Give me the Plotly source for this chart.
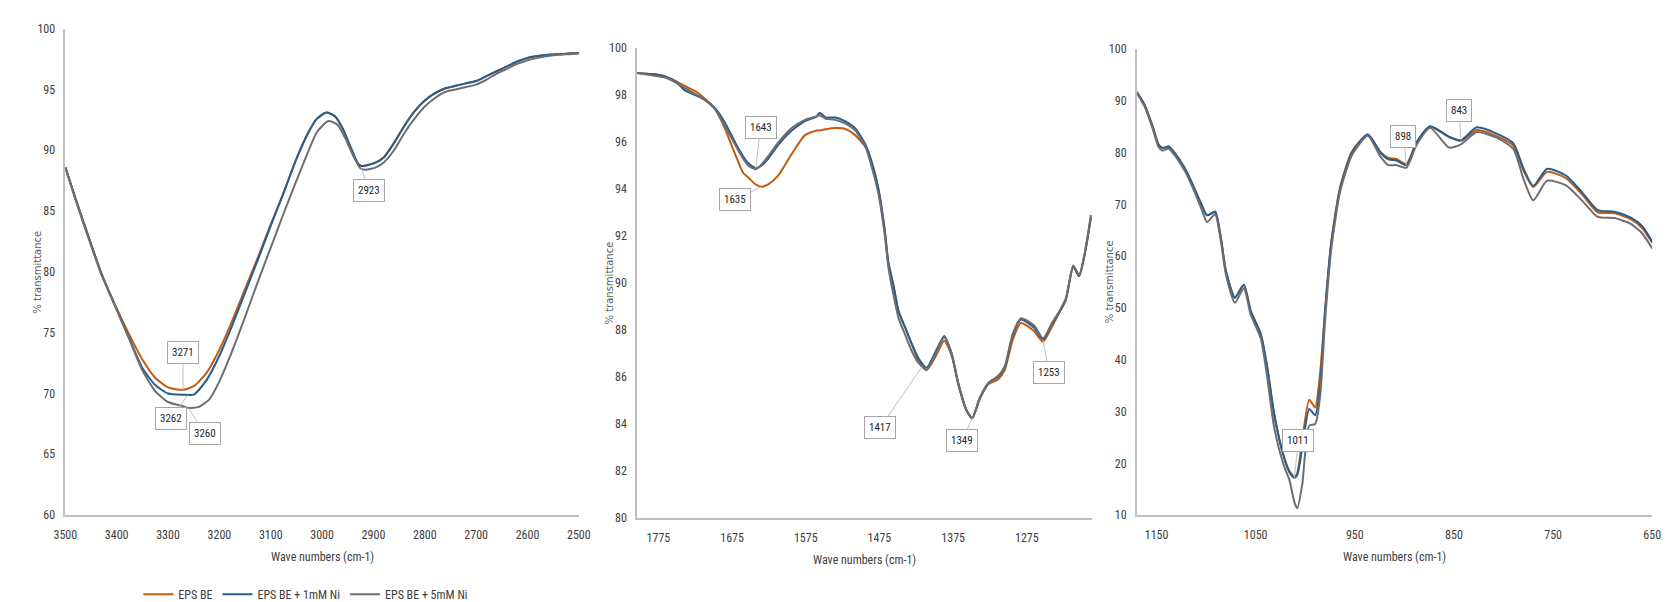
import plotly.graph_objects as go

# ---------------- Data ----------------
series_names = ["EPS BE", "EPS BE + 1mM Ni", "EPS BE + 5mM Ni"]
series_colors = ["#C55A11", "#255E91", "#6E6E6E"]

# Panel 1 (3500-2500 cm-1)
wn1_a = [3500, 3480, 3455, 3430, 3400, 3375, 3350, 3325, 3300, 3271, 3250, 3225, 3200, 3175,
         3150, 3125, 3100, 3075, 3050, 3025, 3010, 2992, 2975, 2960, 2945, 2930, 2923, 2910,
         2895, 2880, 2860, 2840, 2820, 2800, 2780, 2760, 2740, 2720, 2700, 2680, 2660, 2640,
         2620, 2600, 2580, 2560, 2540, 2520, 2500]
eps_be_1 = [88.6, 86.0, 82.9, 79.9, 77.0, 74.8, 72.8, 71.3, 70.5, 70.3, 70.6, 71.7, 73.6, 76.0,
            78.6, 81.2, 83.9, 86.5, 89.3, 91.6, 92.6, 93.1, 92.8, 91.8, 90.3, 88.9, 88.7, 88.8,
            89.0, 89.4, 90.6, 92.0, 93.2, 94.1, 94.7, 95.1, 95.3, 95.5, 95.7, 96.1, 96.5, 96.9,
            97.3, 97.6, 97.75, 97.85, 97.9, 97.95, 98.0]
ni1_1 = [88.6, 86.0, 82.9, 79.9, 76.9, 74.5, 72.1, 70.7, 70.0, 69.9, 69.9, 71.1, 73.1, 75.6,
         78.3, 81.0, 83.8, 86.5, 89.3, 91.6, 92.6, 93.1, 92.8, 91.8, 90.3, 88.9, 88.7, 88.8,
         89.0, 89.4, 90.6, 92.0, 93.2, 94.1, 94.7, 95.1, 95.3, 95.5, 95.7, 96.1, 96.5, 96.9,
         97.3, 97.6, 97.75, 97.85, 97.9, 97.95, 98.0]
wn1_c = [3500, 3480, 3455, 3430, 3400, 3375, 3350, 3325, 3300, 3271, 3260, 3240, 3220, 3200,
         3175, 3150, 3125, 3100, 3075, 3050, 3025, 3010, 2988, 2970, 2955, 2940, 2925, 2915,
         2895, 2880, 2860, 2840, 2820, 2800, 2780, 2760, 2740, 2720, 2700, 2680, 2660, 2640,
         2620, 2600, 2580, 2560, 2540, 2520, 2500]
ni5_1 = [88.6, 85.9, 82.8, 79.8, 76.9, 74.4, 71.9, 70.2, 69.3, 68.95, 68.8, 68.9, 69.5, 71.0,
         73.5, 76.3, 79.2, 82.0, 84.8, 87.5, 90.1, 91.5, 92.4, 92.1, 91.0, 89.6, 88.5, 88.4,
         88.6, 89.0, 90.0, 91.4, 92.6, 93.6, 94.3, 94.8, 95.0, 95.2, 95.4, 95.8, 96.3, 96.7,
         97.1, 97.4, 97.6, 97.75, 97.85, 97.9, 97.95]

# Panel 2 (1800-1190 cm-1)
wn2 = [1804, 1784, 1766, 1752, 1739, 1725, 1712, 1698, 1685, 1671, 1660, 1653, 1643, 1635,
       1626, 1612, 1594, 1576, 1560, 1556, 1548, 1535, 1522, 1508, 1494, 1486, 1477, 1468,
       1463, 1456, 1449, 1440, 1431, 1422, 1411, 1400, 1387, 1377, 1368, 1357, 1349, 1339,
       1327, 1314, 1305, 1294, 1283, 1265, 1253, 1240, 1230, 1222, 1212, 1204, 1196, 1188]
eps_be_2 = [98.95, 98.9, 98.8, 98.6, 98.4, 98.17, 97.85, 97.4, 96.6, 95.5, 94.7, 94.5, 94.2, 94.1,
            94.2, 94.6, 95.5, 96.3, 96.5, 96.5, 96.55, 96.6, 96.57, 96.3, 95.8, 95.2, 94.1, 92.3,
            90.9, 89.9, 88.8, 88.1, 87.4, 86.7, 86.3, 86.8, 87.55, 86.9, 85.7, 84.6, 84.25, 85.05,
            85.7, 85.9, 86.3, 87.6, 88.3, 87.95, 87.5, 88.2, 88.8, 89.3, 90.7, 90.3, 91.3, 92.8]
ni1_2 = [98.95, 98.9, 98.8, 98.6, 98.2, 98.0, 97.8, 97.45, 96.85, 96.0, 95.4, 95.1, 94.9, 95.0,
         95.3, 95.9, 96.5, 96.9, 97.1, 97.25, 97.05, 97.05, 96.9, 96.6, 95.9, 95.2, 94.1, 92.3,
         90.9, 89.9, 88.8, 88.1, 87.4, 86.8, 86.4, 87.0, 87.75, 87.0, 85.75, 84.6, 84.25, 85.1,
         85.75, 86.0, 86.4, 87.8, 88.45, 88.1, 87.6, 88.3, 88.8, 89.3, 90.7, 90.3, 91.3, 92.8]
ni5_2 = [98.95, 98.85, 98.75, 98.55, 98.3, 98.05, 97.8, 97.4, 96.7, 95.9, 95.3, 95.0, 94.85, 95.05,
         95.4, 96.0, 96.6, 96.95, 97.1, 97.15, 97.0, 96.95, 96.8, 96.5, 95.8, 95.0, 93.9, 92.1,
         90.7, 89.5, 88.5, 87.8, 87.1, 86.6, 86.3, 86.9, 87.7, 87.0, 85.7, 84.6, 84.25, 85.1,
         85.75, 86.05, 86.45, 87.85, 88.5, 88.2, 87.65, 88.35, 88.85, 89.35, 90.75, 90.35, 91.35, 92.9]

# Panel 3 (1170-650 cm-1)
wn3 = [1170, 1162, 1154, 1148, 1144, 1138, 1132, 1121, 1113, 1105, 1099, 1091, 1085, 1080,
       1071, 1062, 1055, 1045, 1039, 1031, 1022, 1016, 1011, 1008, 1003, 996, 990, 985, 980,
       974, 965, 953, 937, 924, 916, 908, 898, 888, 874, 855, 843, 827, 807, 790, 780, 770,
       756, 737, 721, 705, 688, 672, 660, 650]
eps_be_3 = [91.7, 89.2, 85.1, 81.6, 80.9, 81.2, 80.0, 76.8, 73.6, 70.1, 67.9, 68.6, 63.4, 57.1,
            52.0, 54.5, 49.4, 45.0, 39.3, 29.1, 21.6, 18.5, 17.4, 18.2, 24.5, 32.3, 30.8, 37.5, 49.6,
            62.4, 73.2, 80.2, 83.5, 80.1, 79.0, 78.8, 77.8, 81.9, 85.0, 83.0, 82.3, 84.4, 83.2,
            81.3, 76.6, 73.4, 76.3, 75.1, 72.0, 68.5, 68.3, 67.2, 65.4, 62.6]
ni1_3 = [91.7, 89.2, 85.1, 81.6, 80.9, 81.2, 80.0, 76.8, 73.6, 70.1, 67.9, 68.6, 63.4, 57.1,
         52.0, 54.5, 49.4, 45.0, 39.3, 29.1, 21.5, 18.3, 17.2, 17.8, 23.0, 30.5, 29.3, 35.0, 49.4,
         62.2, 73.0, 80.0, 83.5, 80.0, 78.7, 78.5, 77.6, 81.9, 85.1, 83.1, 82.4, 84.9, 83.7,
         81.8, 77.0, 73.6, 76.9, 75.6, 72.4, 68.9, 68.6, 67.5, 65.8, 62.8]
ni5_3 = [91.6, 88.9, 84.7, 81.1, 80.4, 80.8, 79.6, 76.3, 73.0, 69.3, 66.6, 68.1, 62.7, 56.4,
         51.0, 53.8, 48.7, 44.2, 37.5, 26.5, 19.8, 16.8, 12.5, 11.3, 16.0, 27.3, 27.6, 33.0, 47.5,
         61.0, 72.3, 79.5, 83.3, 79.2, 77.6, 77.6, 77.1, 81.4, 84.8, 81.0, 81.6, 84.0, 82.9,
         80.7, 75.0, 70.8, 74.6, 73.7, 70.8, 67.6, 67.4, 66.3, 64.4, 61.5]

# Peak labels: (panel, wavenumber label, y at point, x offset px, y offset px)
peak_labels = [
    (1, 3271, 70.3, 0, -37), (1, 3262, 69.85, -17, 23), (1, 3260, 68.8, 16, 25), (1, 2923, 88.5, 7, 22),
    (2, 1643, 94.9, 5, -41), (2, 1635, 94.1, -27, 13), (2, 1417, 86.45, -42, 61),
    (2, 1349, 84.25, -10, 22), (2, 1253, 87.55, 6, 32),
    (3, 1011, 17.2, 4, -37), (3, 898, 77.6, -3, -29), (3, 843, 82.4, -2, -30),
]

x_ticks_1 = [3500, 3400, 3300, 3200, 3100, 3000, 2900, 2800, 2700, 2600, 2500]
x_ticks_2 = [1775, 1675, 1575, 1475, 1375, 1275]
x_ticks_3 = [1150, 1050, 950, 850, 750, 650]

# ---------------- Figure ----------------
W, H = 1672, 602
NARROW = "Liberation Sans Narrow, Arial Narrow, Roboto Condensed, Roboto, sans-serif"
TICK_FONT = dict(family=NARROW, size=12, color="#404040")
AXIS_LINE = "#BFBFBF"

fig = go.Figure()

panels = [
    (1, [(wn1_a, eps_be_1), (wn1_a, ni1_1), (wn1_c, ni5_1)]),
    (2, [(wn2, eps_be_2), (wn2, ni1_2), (wn2, ni5_2)]),
    (3, [(wn3, eps_be_3), (wn3, ni1_3), (wn3, ni5_3)]),
]
for p, data in panels:
    for i, (xs, ys) in enumerate(data):
        fig.add_trace(go.Scatter(
            x=xs, y=ys, mode="lines", name=series_names[i],
            line=dict(color=series_colors[i], width=2, shape="spline", smoothing=0.6),
            xaxis="x" if p == 1 else f"x{p}", yaxis="y" if p == 1 else f"y{p}",
            showlegend=(p == 1),
        ))

# domains in pixels (left, right, top, bottom)
px_dom = {1: (46, 567, 14, 512), 2: (626, 1088, 34, 515), 3: (1133, 1656, 35, 512)}
x_ranges = {1: [3500, 2500], 2: [1804, 1186], 3: [1170, 650]}
y_ranges = {1: [60, 100], 2: [80, 100], 3: [10, 100]}
y_dticks = {1: 5, 2: 2, 3: 10}
x_tickvals = {1: x_ticks_1, 2: x_ticks_2, 3: x_ticks_3}

layout_axes = {}
for p in (1, 2, 3):
    l, r, t, b = px_dom[p]
    xd = [l / W, r / W]
    yd = [1 - b / H, 1 - t / H]
    xk = "xaxis" if p == 1 else f"xaxis{p}"
    yk = "yaxis" if p == 1 else f"yaxis{p}"
    ya = "y" if p == 1 else f"y{p}"
    xa = "x" if p == 1 else f"x{p}"
    layout_axes[xk] = dict(domain=xd, range=x_ranges[p], anchor=ya, tickvals=x_tickvals[p],
                           showline=True, linecolor=AXIS_LINE, linewidth=1.5, showgrid=False,
                           zeroline=False, ticks="", tickfont=TICK_FONT, ticklabelstandoff=8)
    layout_axes[yk] = dict(domain=yd, range=y_ranges[p], anchor=xa, dtick=y_dticks[p], tick0=0,
                           showline=True, linecolor=AXIS_LINE, linewidth=1.5, showgrid=False,
                           zeroline=False, ticks="", tickfont=TICK_FONT, ticklabelstandoff=6)

fig.update_layout(**layout_axes)

annotations = []
# axis titles
for p in (1, 2, 3):
    l, r, t, b = px_dom[p]
    annotations.append(dict(text="Wave numbers (cm-1)", xref="paper", yref="paper",
                            x=(l + r) / 2 / W, y=1 - (b + 43) / H, showarrow=False,
                            font=dict(family=NARROW, size=12, color="#404040"),
                            xanchor="center", yanchor="middle"))
    annotations.append(dict(text="% transmittance", xref="paper", yref="paper",
                            x=(l - 28) / W, y=1 - (t + b) / 2 / H, showarrow=False, textangle=-90,
                            font=dict(family="DejaVu Sans, Verdana, sans-serif", size=10, color="#595959"),
                            xanchor="center", yanchor="middle"))

for p, wn, yv, axo, ayo in peak_labels:
    annotations.append(dict(
        text=str(wn), x=wn, y=yv,
        xref="x" if p == 1 else f"x{p}", yref="y" if p == 1 else f"y{p}",
        showarrow=True, arrowhead=0, arrowwidth=1, arrowcolor="#BFBFBF",
        ax=axo, ay=ayo, bgcolor="white", bordercolor="#A6A6A6", borderwidth=1, borderpad=4,
        font=dict(family=NARROW, size=11, color="#262626"),
    ))

fig.update_layout(
    width=W, height=H, margin=dict(l=0, r=0, t=0, b=0),
    paper_bgcolor="white", plot_bgcolor="white",
    annotations=annotations,
    legend=dict(orientation="h", x=290 / W, y=1 - 593 / H, xanchor="center", yanchor="middle",
                font=dict(family=NARROW, size=12, color="#404040"),
                itemwidth=30, tracegroupgap=0, bgcolor="rgba(0,0,0,0)"),
    showlegend=True,
)

fig.write_html("out.html")
